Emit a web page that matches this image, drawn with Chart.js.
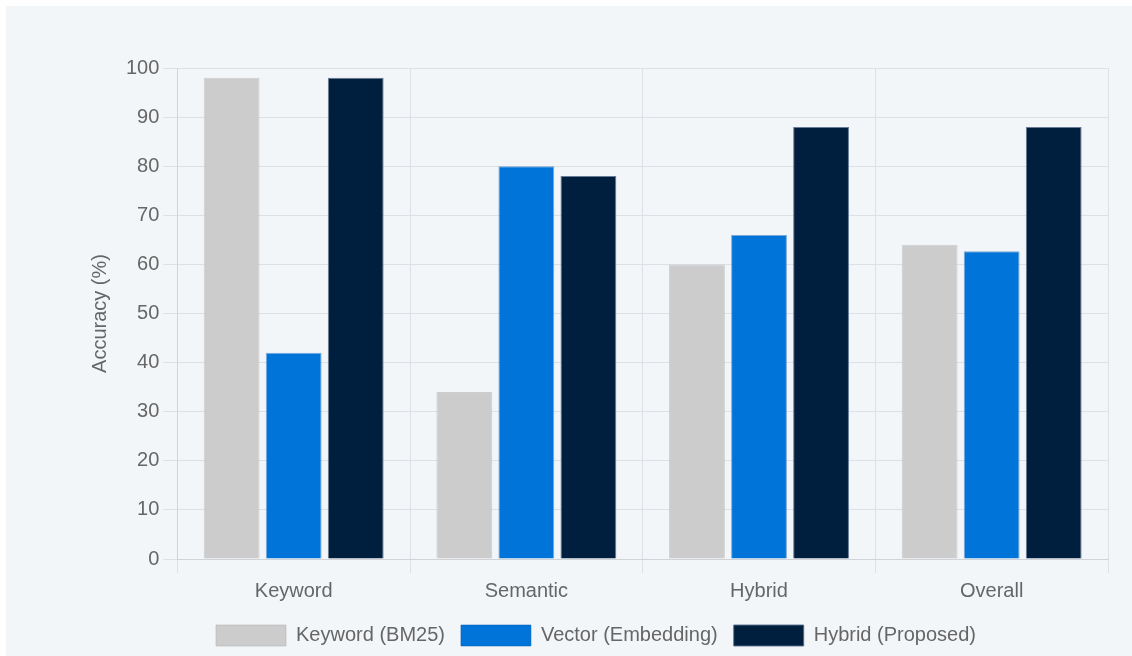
<!DOCTYPE html>
<html>
<head>
<meta charset="utf-8">
<script src="https://cdn.jsdelivr.net/npm/chart.js@4.4.1/dist/chart.umd.min.js"></script>
<style>
    html, body { margin: 0; padding: 0; background: #ffffff; }
    #wrap { position: absolute; left: 6px; top: 6px; width: 1126px; height: 650px; background: #f3f6f9; }
</style>
</head>
<body>
<div id="wrap"><canvas id="accChart"></canvas></div>
<script>
//-- ข้อมูลของกราฟ --
const categories = ["Keyword", "Semantic", "Hybrid", "Overall"];
const keywordBM25 = [98, 34, 60, 64];
const vectorEmbedding = [42, 80, 66, 62.7];
const hybridProposed = [98, 78, 88, 88];
const yTicks = [0, 10, 20, 30, 40, 50, 60, 70, 80, 90, 100];

const font = "'Liberation Sans', Arial, sans-serif";
Chart.defaults.font.family = font;
Chart.defaults.color = "#666";

const ctx = document.getElementById("accChart").getContext("2d");
new Chart(ctx, {
    type: "bar",
    data: {
        labels: categories,
        datasets: [
            {
                label: "Keyword (BM25)",
                data: keywordBM25,
                backgroundColor: "#cccccc",
                borderColor: "rgba(180,180,180,0.6)",
                borderWidth: 1
            },
            {
                label: "Vector (Embedding)",
                data: vectorEmbedding,
                backgroundColor: "#0074d9",
                borderColor: "rgba(0,90,180,0.5)",
                borderWidth: 1
            },
            {
                label: "Hybrid (Proposed)",
                data: hybridProposed,
                backgroundColor: "#001f3f",
                borderColor: "rgba(90,110,140,0.9)",
                borderWidth: 1
            }
        ]
    },
    options: {
        responsive: true,
        maintainAspectRatio: false,
        animation: false,
        layout: { padding: { left: 78, right: 24, top: 62, bottom: 0 } },
        plugins: {
            legend: {
                position: "bottom",
                labels: {
                    boxWidth: 70,
                    boxHeight: 21,
                    padding: 16,
                    font: { size: 20 },
                    color: "#666"
                }
            },
            tooltip: { enabled: false }
        },
        scales: {
            x: {
                grid: { color: "#dde1e6", tickLength: 14 },
                border: { color: "#d0d4d9" },
                ticks: { font: { size: 20 }, color: "#666", padding: 6 }
            },
            y: {
                min: 0,
                max: 100,
                afterBuildTicks: axis => { axis.ticks = yTicks.map(v => ({ value: v })); },
                grid: { color: "#dde1e6", tickLength: 14 },
                border: { color: "#d0d4d9" },
                ticks: { font: { size: 20 }, color: "#666", padding: 4 },
                title: {
                    display: true,
                    text: "Accuracy (%)",
                    font: { size: 20 },
                    color: "#666",
                    padding: { bottom: 10 }
                }
            }
        }
    }
});
</script>
</body>
</html>
